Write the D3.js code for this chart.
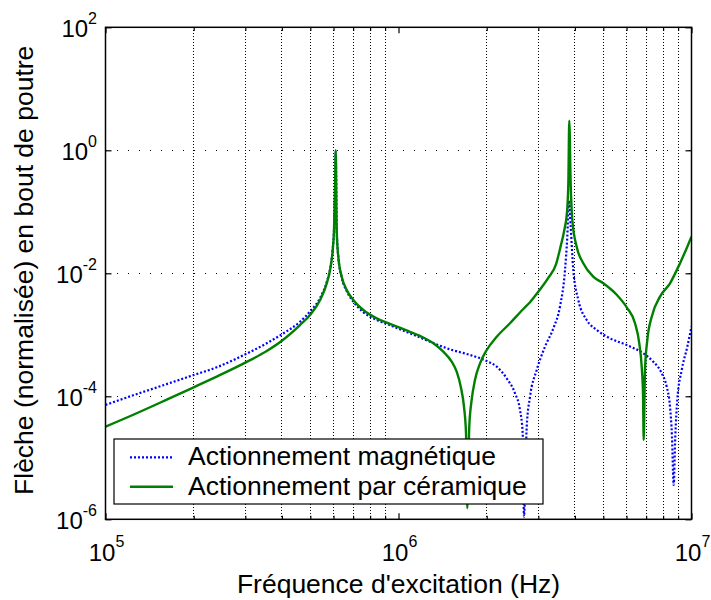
<!DOCTYPE html>
<html>
<head>
<meta charset="utf-8">
<script src="https://cdn.jsdelivr.net/npm/d3@7"></script>
<style>
  html, body { margin: 0; padding: 0; background: #fff; }
  svg text { font-family: "Liberation Sans", Arial, Helvetica, sans-serif; fill: #000; }
</style>
</head>
<body>
<svg id="chart" width="711" height="600"></svg>
<script>
// Tip deflection (normalised) versus excitation frequency, two actuation modes.

// Magnetic actuation: frequency (Hz) and normalised deflection
const magFreq = [
  1.00e5, 1.244e5, 1.618e5, 2.00e5, 2.396e5, 3.00e5, 3.55e5, 4.00e5, 4.61e5, 4.99e5,
  5.40e5, 5.69e5, 5.84e5, 5.963e5, 6.025e5, 6.072e5, 6.106e5, 6.154e5, 6.231e5, 6.40e5,
  6.657e5, 7.01e5, 7.585e5, 8.425e5, 9.35e5, 1.094e6, 1.281e6, 1.498e6, 1.754e6, 2.00e6,
  2.164e6, 2.34e6, 2.498e6, 2.598e6, 2.654e6, 2.681e6, 2.739e6, 2.811e6, 2.963e6, 3.162e6,
  3.376e6, 3.557e6, 3.701e6, 3.768e6, 3.818e6, 3.869e6, 3.950e6, 4.109e6, 4.389e6, 4.749e6,
  5.271e6, 6.008e6, 6.846e6, 7.405e6, 7.913e6, 8.230e6, 8.446e6, 8.578e6, 8.693e6, 8.803e6,
  8.943e6, 9.260e6, 9.676e6, 1.00e7
];
const magValue = [
  7.23e-5, 1.04e-4, 1.58e-4, 2.22e-4, 2.96e-4, 4.82e-4, 7.28e-4, 1.02e-3, 1.63e-3, 2.40e-3,
  3.98e-3, 7.24e-3, 1.17e-2, 2.51e-2, 5.25e-2, 0.224, 0.955, 5.01e-2, 1.82e-2, 8.51e-3,
  5.13e-3, 3.47e-3, 2.34e-3, 1.74e-3, 1.43e-3, 1.06e-3, 7.73e-4, 5.81e-4, 4.70e-4, 3.75e-4,
  3.03e-4, 1.96e-4, 1.12e-4, 5.98e-5, 2.50e-5, 1.10e-6, 3.21e-5, 9.86e-5, 2.68e-4, 6.41e-4,
  1.27e-3, 2.88e-3, 1.13e-2, 3.94e-2, 0.151, 5.73e-2, 1.13e-2, 3.68e-3, 1.74e-3, 1.20e-3,
  8.77e-4, 6.82e-4, 5.00e-4, 3.66e-4, 2.37e-4, 1.43e-4, 6.78e-5, 2.20e-5, 3.61e-6, 2.20e-5,
  8.71e-5, 2.68e-4, 6.41e-4, 1.36e-3
];

// Ceramic (piezo) actuation: frequency (Hz) and normalised deflection
const cerFreq = [
  1.00e5, 1.244e5, 1.618e5, 2.00e5, 2.396e5, 3.00e5, 3.55e5, 4.00e5, 4.61e5, 4.99e5,
  5.40e5, 5.69e5, 5.84e5, 5.963e5, 6.025e5, 6.072e5, 6.106e5, 6.154e5, 6.231e5, 6.40e5,
  6.657e5, 7.01e5, 7.585e5, 8.425e5, 9.35e5, 9.98e5, 1.094e6, 1.215e6, 1.315e6, 1.422e6,
  1.519e6, 1.580e6, 1.631e6, 1.673e6, 1.700e6, 1.717e6, 1.744e6, 1.777e6, 1.824e6, 1.898e6,
  2.00e6, 2.164e6, 2.402e6, 2.667e6, 2.811e6, 3.00e6, 3.24e6, 3.45e6, 3.58e6, 3.68e6,
  3.76e6, 3.80e6, 3.827e6, 3.869e6, 3.919e6, 4.056e6, 4.272e6, 4.62e6, 5.00e6, 5.555e6,
  6.025e6, 6.415e6, 6.634e6, 6.761e6, 6.831e6, 6.869e6, 6.939e6, 7.066e6, 7.316e6, 7.807e6,
  8.446e6, 9.138e6, 9.676e6, 1.00e7
];
const cerValue = [
  3.21e-5, 5.01e-5, 8.81e-5, 1.40e-4, 2.09e-4, 3.52e-4, 5.46e-4, 8.02e-4, 1.44e-3, 2.10e-3,
  3.68e-3, 6.87e-3, 1.13e-2, 2.39e-2, 5.06e-2, 0.226, 1.00, 5.06e-2, 1.86e-2, 8.81e-3,
  5.35e-3, 3.68e-3, 2.53e-3, 1.85e-3, 1.51e-3, 1.33e-3, 1.12e-3, 9.02e-4, 7.28e-4, 5.31e-4,
  3.66e-4, 2.51e-4, 1.43e-4, 6.78e-5, 2.50e-5, 1.51e-6, 3.21e-5, 8.71e-5, 1.84e-4, 3.44e-4,
  5.66e-4, 9.31e-4, 1.54e-3, 2.63e-3, 3.39e-3, 5.01e-3, 8.32e-3, 1.41e-2, 2.82e-2, 5.01e-2,
  0.100, 0.316, 3.03, 0.290, 7.36e-2, 2.71e-2, 1.46e-2, 8.81e-3, 6.87e-3, 4.47e-3,
  2.75e-3, 1.54e-3, 7.28e-4, 3.03e-4, 1.12e-4, 1.95e-5, 2.68e-4, 8.22e-4, 1.97e-3, 4.17e-3,
  6.87e-3, 1.46e-2, 2.71e-2, 3.94e-2
];

// Axis ticks
const xMajorTicks = [1e5, 1e6, 1e7];
const xMajorExp = ["5", "6", "7"];
const xMinorTicks = [2e5, 3e5, 4e5, 5e5, 6e5, 7e5, 8e5, 9e5, 2e6, 3e6, 4e6, 5e6, 6e6, 7e6, 8e6, 9e6];
const yMajorTicks = [1e2, 1e0, 1e-2, 1e-4, 1e-6];
const yMajorExp = ["2", "0", "-2", "-4", "-6"];

const seriesNames = ["Actionnement magnétique", "Actionnement par céramique"];
const xTitle = "Fréquence d'excitation (Hz)";
const yTitle = "Flèche (normalisée) en bout de poutre";

const magData = magFreq.map((f, i) => ({ f, v: magValue[i] }));
const cerData = cerFreq.map((f, i) => ({ f, v: cerValue[i] }));

const plot = { left: 105.5, right: 691.5, top: 27.3, bottom: 519.3 };
const svg = d3.select("#chart");

const x = d3.scaleLog().domain([1e5, 1e7]).range([plot.left, plot.right]);
const y = d3.scaleLog().domain([1e-6, 1e2]).range([plot.bottom, plot.top]);

// Grid lines
const grid = svg.append("g").attr("class", "grid");
grid.selectAll("line.vx")
  .data(xMinorTicks)
  .join("line")
  .attr("x1", d => x(d)).attr("x2", d => x(d))
  .attr("y1", plot.top).attr("y2", plot.bottom)
  .attr("stroke", "#000").attr("stroke-width", 1)
  .attr("stroke-dasharray", "1,2").attr("shape-rendering", "crispEdges");
grid.selectAll("line.hy")
  .data(yMajorTicks.slice(1, -1))
  .join("line")
  .attr("x1", plot.left).attr("x2", plot.right)
  .attr("y1", d => y(d)).attr("y2", d => y(d))
  .attr("stroke", "#000").attr("stroke-width", 1)
  .attr("stroke-dasharray", "1,10").attr("shape-rendering", "crispEdges");

// Curves
svg.append("clipPath").attr("id", "clip")
  .append("rect")
  .attr("x", plot.left).attr("y", plot.top)
  .attr("width", plot.right - plot.left).attr("height", plot.bottom - plot.top);

const line = d3.line()
  .x(d => x(d.f))
  .y(d => y(d.v))
  .curve(d3.curveMonotoneX);

const curves = svg.append("g").attr("clip-path", "url(#clip)");
curves.append("path")
  .datum(magData)
  .attr("d", line)
  .attr("fill", "none")
  .attr("stroke", "#0000ff")
  .attr("stroke-width", 2.2)
  .attr("stroke-dasharray", "2,2");
curves.append("path")
  .datum(cerData)
  .attr("d", line)
  .attr("fill", "none")
  .attr("stroke", "#008000")
  .attr("stroke-width", 2.4);

// Axes: inward ticks on all four sides
const tickLen = 6;
const axes = svg.append("g").attr("class", "axes");
axes.append("g")
  .attr("transform", `translate(0,${plot.bottom})`)
  .call(d3.axisBottom(x).tickValues(xMajorTicks).tickSizeInner(-tickLen).tickSizeOuter(0).tickFormat(""));
axes.append("g")
  .attr("transform", `translate(0,${plot.bottom})`)
  .call(d3.axisBottom(x).tickValues(xMinorTicks).tickSizeInner(-tickLen * 0.6).tickSizeOuter(0).tickFormat(""));
axes.append("g")
  .attr("transform", `translate(0,${plot.top})`)
  .call(d3.axisTop(x).tickValues(xMajorTicks).tickSizeInner(-tickLen).tickSizeOuter(0).tickFormat(""));
axes.append("g")
  .attr("transform", `translate(0,${plot.top})`)
  .call(d3.axisTop(x).tickValues(xMinorTicks).tickSizeInner(-tickLen * 0.6).tickSizeOuter(0).tickFormat(""));
axes.append("g")
  .attr("transform", `translate(${plot.left},0)`)
  .call(d3.axisLeft(y).tickValues(yMajorTicks).tickSizeInner(-tickLen).tickSizeOuter(0).tickFormat(""));
axes.append("g")
  .attr("transform", `translate(${plot.right},0)`)
  .call(d3.axisRight(y).tickValues(yMajorTicks).tickSizeInner(-tickLen).tickSizeOuter(0).tickFormat(""));
axes.selectAll(".domain").remove();
axes.selectAll(".tick line").attr("stroke", "#000").attr("stroke-width", 1.2);

// Frame
svg.append("rect")
  .attr("x", plot.left).attr("y", plot.top)
  .attr("width", plot.right - plot.left).attr("height", plot.bottom - plot.top)
  .attr("fill", "none").attr("stroke", "#000").attr("stroke-width", 1.5);

// Tick labels as powers of ten
const xLab = svg.append("g").selectAll("text")
  .data(xMajorTicks)
  .join("text")
  .attr("x", d => x(d) + 1)
  .attr("y", 561)
  .attr("text-anchor", "middle")
  .attr("font-size", 24);
xLab.append("tspan").text("10");
xLab.append("tspan").attr("dy", -14).attr("font-size", 16).text((d, i) => xMajorExp[i]);

const yLab = svg.append("g").selectAll("text")
  .data(yMajorTicks)
  .join("text")
  .attr("x", 97)
  .attr("y", d => y(d) + 9.3)
  .attr("text-anchor", "end")
  .attr("font-size", 24);
yLab.append("tspan").text("10");
yLab.append("tspan").attr("dy", -12.5).attr("font-size", 16).text((d, i) => yMajorExp[i]);

// Axis titles
svg.append("text")
  .attr("x", (plot.left + plot.right) / 2)
  .attr("y", 593)
  .attr("text-anchor", "middle")
  .attr("font-size", 26.5)
  .text(xTitle);
svg.append("text")
  .attr("transform", `translate(33,${(plot.top + plot.bottom) / 2 - 3}) rotate(-90)`)
  .attr("text-anchor", "middle")
  .attr("font-size", 26.5)
  .text(yTitle);

// Legend
const legend = svg.append("g");
legend.append("rect")
  .attr("x", 114).attr("y", 439)
  .attr("width", 429).attr("height", 65)
  .attr("fill", "#fff").attr("stroke", "#000").attr("stroke-width", 1.2);
const legendStyles = [
  { color: "#0000ff", dash: "2,2", width: 2.2 },
  { color: "#008000", dash: null, width: 2.4 }
];
const rows = [457.3, 486.7];
seriesNames.forEach((name, i) => {
  legend.append("line")
    .attr("x1", 130).attr("x2", 173)
    .attr("y1", rows[i]).attr("y2", rows[i])
    .attr("stroke", legendStyles[i].color)
    .attr("stroke-width", legendStyles[i].width)
    .attr("stroke-dasharray", legendStyles[i].dash);
  legend.append("text")
    .attr("x", 188)
    .attr("y", rows[i] + 8)
    .attr("font-size", 26.5)
    .text(name);
});
</script>
</body>
</html>
